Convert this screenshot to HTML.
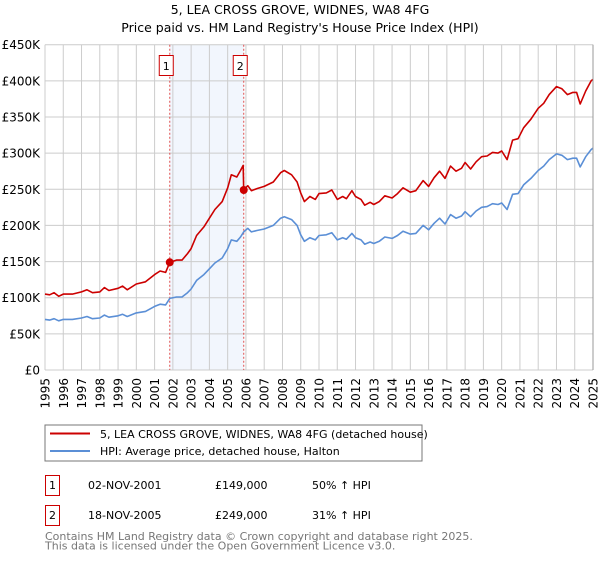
<!DOCTYPE html>
<html><head><meta charset="utf-8"><style>
body{margin:0;width:600px;height:560px;background:#fff;font-family:"DejaVu Sans","Liberation Sans",sans-serif;overflow:hidden}
svg text{font-family:"DejaVu Sans","Liberation Sans",sans-serif}
</style></head><body>
<svg id="chart" width="600" height="560">
<text x="300" y="14" text-anchor="middle" font-size="12.5">5, LEA CROSS GROVE, WIDNES, WA8 4FG</text>
<text x="300" y="32" text-anchor="middle" font-size="12.5">Price paid vs. HM Land Registry's House Price Index (HPI)</text>
<g id="grid"></g><g id="series"></g><g id="axes"></g>
<rect x="45" y="425" width="377" height="36" fill="#fff" stroke="#777"/>
<line x1="50" y1="433.5" x2="90" y2="433.5" stroke="#cc0000" stroke-width="2"/>
<text x="100" y="438" font-size="11">5, LEA CROSS GROVE, WIDNES, WA8 4FG (detached house)</text>
<line x1="50" y1="451" x2="90" y2="451" stroke="#5b8fd6" stroke-width="2"/>
<text x="100" y="455" font-size="11">HPI: Average price, detached house, Halton</text>
<g>
<rect x="45.5" y="475.5" width="14" height="20" fill="#fff" stroke="#cc0000"/>
<text x="52.5" y="489" font-size="11" text-anchor="middle">1</text>
<text x="88" y="489" font-size="11">02-NOV-2001</text>
<text x="215" y="489" font-size="11">£149,000</text>
<text x="312" y="489" font-size="11">50% ↑ HPI</text></g>
<g>
<rect x="45.5" y="505.5" width="14" height="20" fill="#fff" stroke="#cc0000"/>
<text x="52.5" y="519" font-size="11" text-anchor="middle">2</text>
<text x="88" y="519" font-size="11">18-NOV-2005</text>
<text x="215" y="519" font-size="11">£249,000</text>
<text x="312" y="519" font-size="11">31% ↑ HPI</text></g>
<text x="45" y="540" font-size="11" fill="#777">Contains HM Land Registry data © Crown copyright and database right 2025.</text>
<text x="45" y="549.5" font-size="11" fill="#777">This data is licensed under the Open Government Licence v3.0.</text>
</svg>
<script>
const yTicks=[0,50,100,150,200,250,300,350,400,450];
const yTickLabels=["£0","£50K","£100K","£150K","£200K","£250K","£300K","£350K","£400K","£450K"];
const xYears=[1995,1996,1997,1998,1999,2000,2001,2002,2003,2004,2005,2006,2007,2008,2009,2010,2011,2012,2013,2014,2015,2016,2017,2018,2019,2020,2021,2022,2023,2024,2025];
const hpiDates=[1995,1995.25,1995.5,1995.75,1996,1996.5,1997,1997.3,1997.6,1998,1998.25,1998.5,1999,1999.25,1999.5,2000,2000.5,2001,2001.3,2001.6,2001.83,2002.2,2002.5,2002.8,2003,2003.3,2003.7,2004,2004.3,2004.7,2005,2005.2,2005.5,2005.7,2005.88,
2006.1,2006.3,2006.6,2007,2007.5,2007.9,2008.1,2008.5,2008.8,
2009.0,2009.2,2009.5,2009.8,2010.0,2010.4,2010.7,2011.0,2011.3,2011.5,2011.8,2012.0,2012.3,2012.5,2012.8,2013.0,2013.3,2013.6,2014.0,2014.3,2014.6,2015.0,2015.3,2015.7,2016.0,2016.3,2016.6,2016.9,2017.2,2017.5,2017.8,2018.0,2018.3,2018.6,2018.9,2019.2,2019.5,2019.8,2020.0,2020.3,2020.6,2020.9,2021.2,2021.6,2022.0,2022.3,2022.6,2023.0,2023.3,2023.6,2023.9,2024.1,2024.3,2024.6,2024.9,2025.0];
const hpiValues=[70,69,71,68,70,70,72,74,71,72,76,73,75,77,74,79,81,88,91,90,99,101,101,107,112,124,132,140,148,155,168,180,178,184,191,
196,191,193,195,200,210,212,208,200,
187,178,183,180,186,187,190,180,183,181,189,183,180,174,177,175,178,184,182,186,192,188,189,200,194,203,210,202,215,210,213,219,212,220,225,226,230,229,231,222,243,244,256,265,276,282,291,299,297,291,293,293,281,295,305,307];
const redDates=[1995,1995.25,1995.5,1995.75,1996,1996.5,1997,1997.3,1997.6,1998,1998.25,1998.5,1999,1999.25,1999.5,2000,2000.5,2001,2001.3,2001.6,2001.83,2002.2,2002.5,2002.8,2003,2003.3,2003.7,2004,2004.3,2004.7,2005,2005.2,2005.5,2005.7,2005.85,2005.88,
2006.1,2006.3,2006.6,2007,2007.5,2007.9,2008.1,2008.5,2008.8,
2009.0,2009.2,2009.5,2009.8,2010.0,2010.4,2010.7,2011.0,2011.3,2011.5,2011.8,2012.0,2012.3,2012.5,2012.8,2013.0,2013.3,2013.6,2014.0,2014.3,2014.6,2015.0,2015.3,2015.7,2016.0,2016.3,2016.6,2016.9,2017.2,2017.5,2017.8,2018.0,2018.3,2018.6,2018.9,2019.2,2019.5,2019.8,2020.0,2020.3,2020.6,2020.9,2021.2,2021.6,2022.0,2022.3,2022.6,2023.0,2023.3,2023.6,2023.9,2024.1,2024.3,2024.6,2024.9,2025.0];
const redValues=[105,104,107,102,105,105,108,111,107,108,114,110,113,116,111,119,122,132,137,135,149,152,152,161,168,186,198,210,222,233,252,270,267,276,283,249,
255,248,251,254,260,273,276,270,260,
245,233,240,236,244,245,249,236,240,237,248,240,236,228,232,229,233,241,238,244,252,246,248,262,254,266,275,265,282,275,279,287,278,288,295,296,301,300,303,291,318,320,335,347,362,369,381,392,389,381,384,384,368,386,400,402];
const saleT=[2001.83,2005.88];
const saleV=[149,249];
const NS="http://www.w3.org/2000/svg";
const L=45,R=593,T=44.7,B=370;
const xs=y=>L+(y-1995)/30*(R-L);
const ys=v=>B-v/450*(B-T);
function mk(tag,attrs,parent){const e=document.createElementNS(NS,tag);for(const k in attrs)e.setAttribute(k,attrs[k]);parent.appendChild(e);return e;}
const grid=document.getElementById('grid'),ser=document.getElementById('series'),ax=document.getElementById('axes');
const band=mk('rect',{x:xs(saleT[0]),y:T,width:xs(saleT[1])-xs(saleT[0]),height:B-T,fill:'#eef3fc',opacity:0.75},grid);


yTicks.forEach((v,i)=>{
 const l=mk('line',{x1:L,x2:R,y1:ys(v),y2:ys(v),stroke:'#ccc'},grid);
 
 
 const t=mk('text',{x:40,y:ys(v)+4.5,'text-anchor':'end','font-size':12},ax);
 t.textContent=yTickLabels[i];
 
 
});
xYears.forEach(yr=>{
 const x=xs(yr);
 const l=mk('line',{x1:x,x2:x,y1:T,y2:B,stroke:'#ccc'},grid);
 
 
 const t=mk('text',{x:0,y:0,'text-anchor':'end','font-size':12,transform:`translate(${x+4.5},${B+8}) rotate(-90)`},ax);
 t.textContent=yr;
 
 
});
saleT.forEach((t,i)=>{
 const x=xs(t);
 const l=mk('line',{x1:x,x2:x,y1:T,y2:B,stroke:'#e05050','stroke-dasharray':'2,2'},grid);
 
 
 const g=mk('g',{},ax);
 
 
 mk('rect',{x:x-10.5,y:55.5,width:14,height:20,fill:'#fff',stroke:'#cc0000'},g);
 const tx=mk('text',{x:x-3.5,y:70,'text-anchor':'middle','font-size':11},g);
 tx.textContent=String(i+1);
});
function pts(ts,vs){return ts.map((t,i)=>xs(t).toFixed(1)+','+ys(vs[i]).toFixed(1)).join(' ');}
const hl=mk('polyline',{points:pts(hpiDates,hpiValues),fill:'none',stroke:'#5b8fd6','stroke-width':1.6,'stroke-linejoin':'round'},ser);


const rl=mk('polyline',{points:pts(redDates,redValues),fill:'none',stroke:'#cc0000','stroke-width':1.6,'stroke-linejoin':'round'},ser);


saleT.forEach((t,i)=>{
 const c=mk('circle',{cx:xs(t),cy:ys(saleV[i]),r:4,fill:'#cc0000'},ser);
 
 
});
const rb=mk('line',{x1:R,x2:R,y1:T,y2:B,stroke:'#999'},ax);


</script>
</body></html>
